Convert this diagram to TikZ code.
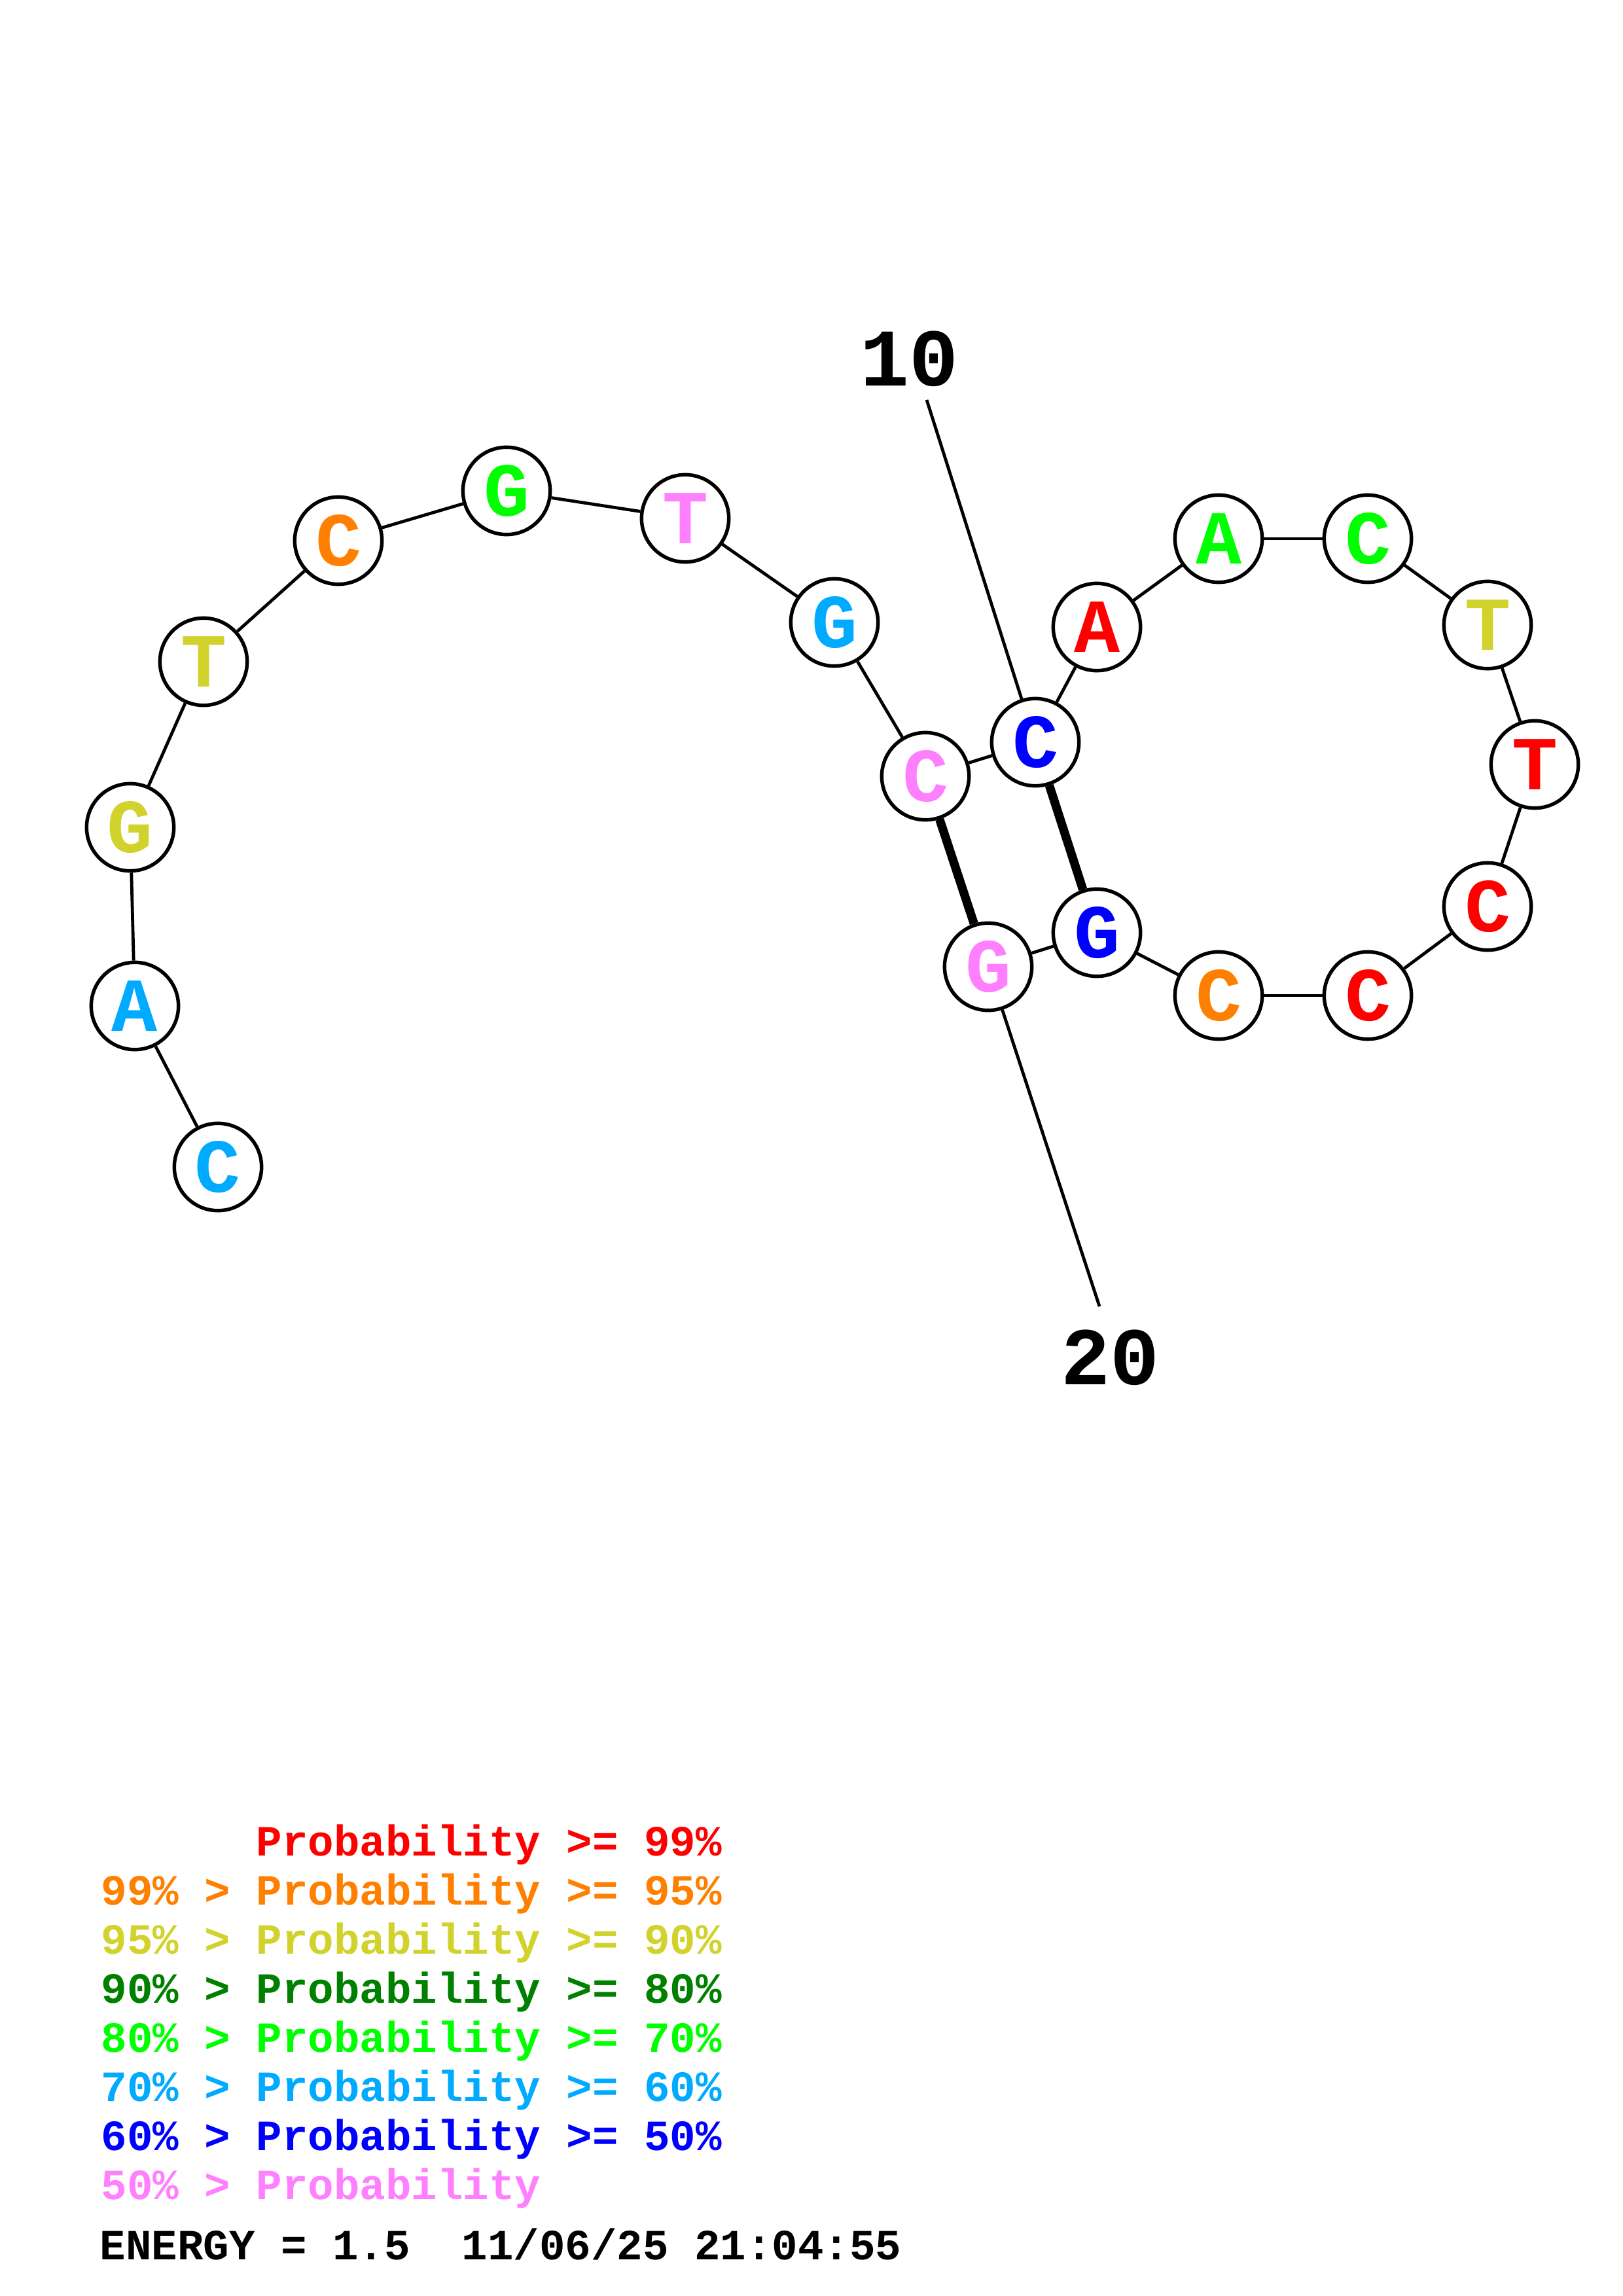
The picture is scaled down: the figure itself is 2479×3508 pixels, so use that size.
\documentclass[tikz,border=0pt]{standalone}
\usepackage{fontspec}
\setmonofont{Liberation Mono}
\newfontfamily\cour{Liberation Mono}
\definecolor{pRed}{RGB}{255,0,0}
\definecolor{pOrange}{RGB}{255,128,0}
\definecolor{pYellow}{RGB}{210,210,45}
\definecolor{pDkGreen}{RGB}{0,128,0}
\definecolor{pGreen}{RGB}{0,255,0}
\definecolor{pCyan}{RGB}{0,170,255}
\definecolor{pBlue}{RGB}{0,0,255}
\definecolor{pPink}{RGB}{255,128,255}
\newcommand{\nlet}[1]{\raisebox{-2pt}{#1}}
\tikzset{
  nt/.style={circle, draw=black, line width=1.3pt, fill=white, minimum size=32pt, inner sep=0pt,
    font=\cour\bfseries\fontsize{28}{28}\selectfont},
  bb/.style={line width=1.15pt, black},
  pairline/.style={line width=3.2pt, black},
  numlab/.style={font=\cour\bfseries\fontsize{30}{30}\selectfont},
  leg/.style={anchor=base west, inner sep=0pt, font=\cour\bfseries\fontsize{15.8}{16}\selectfont}
}
\begin{document}
\begin{tikzpicture}[x=0.24pt,y=-0.24pt]
\useasboundingbox (0,0) rectangle (2479,3508);
\coordinate (t10) at (1416,611);
\coordinate (t20) at (1680,1996);
% nodes
\node[nt, text=pCyan]   (n1)  at (333,1783) {\nlet{C}};
\node[nt, text=pCyan]   (n2)  at (206,1537) {\nlet{A}};
\node[nt, text=pYellow] (n3)  at (199,1264) {\nlet{G}};
\node[nt, text=pYellow] (n4)  at (311,1011) {\nlet{T}};
\node[nt, text=pOrange] (n5)  at (517,826) {\nlet{C}};
\node[nt, text=pGreen]  (n6)  at (774,750) {\nlet{G}};
\node[nt, text=pPink]   (n7)  at (1047,792) {\nlet{T}};
\node[nt, text=pCyan]   (n8)  at (1275,951) {\nlet{G}};
\node[nt, text=pPink]   (n9)  at (1414,1186) {\nlet{C}};
\node[nt, text=pBlue]   (n10) at (1582,1134) {\nlet{C}};
\node[nt, text=pRed]    (n11) at (1676,958) {\nlet{A}};
\node[nt, text=pGreen]  (n12) at (1862,823) {\nlet{A}};
\node[nt, text=pGreen]  (n13) at (2090,823) {\nlet{C}};
\node[nt, text=pYellow] (n14) at (2273,955) {\nlet{T}};
\node[nt, text=pRed]    (n15) at (2345,1168) {\nlet{T}};
\node[nt, text=pRed]    (n16) at (2273,1385) {\nlet{C}};
\node[nt, text=pRed]    (n17) at (2090,1521) {\nlet{C}};
\node[nt, text=pOrange] (n18) at (1862,1521) {\nlet{C}};
\node[nt, text=pBlue]   (n19) at (1676,1425) {\nlet{G}};
\node[nt, text=pPink]   (n20) at (1510,1477) {\nlet{G}};
% backbone
\foreach \a/\b in {1/2,2/3,3/4,4/5,5/6,6/7,7/8,8/9,9/10,10/11,11/12,12/13,13/14,14/15,15/16,16/17,17/18,18/19,19/20}
  \draw[bb] (n\a) -- (n\b);
% pairs
\draw[pairline] (n9) -- (n20);
\draw[pairline] (n10) -- (n19);
% number labels
\draw[bb] (t10) -- (n10);
\draw[bb] (n20) -- (t20);
\node[numlab] (l10) at (1389,548) {10};
\node[numlab] (l20) at (1696,2074) {20};
% legend
\node[leg, text=pRed]     (g1) at (391,2835) {Probability >= 99\%};
\node[leg, text=pOrange]  (g2) at (154,2910) {99\% > Probability >= 95\%};
\node[leg, text=pYellow]  (g3) at (154,2985) {95\% > Probability >= 90\%};
\node[leg, text=pDkGreen] (g4) at (154,3060) {90\% > Probability >= 80\%};
\node[leg, text=pGreen]   (g5) at (154,3135) {80\% > Probability >= 70\%};
\node[leg, text=pCyan]    (g6) at (154,3210) {70\% > Probability >= 60\%};
\node[leg, text=pBlue]    (g7) at (154,3285) {60\% > Probability >= 50\%};
\node[leg, text=pPink]    (g8) at (154,3360) {50\% > Probability};
\node[leg, text=black]    (en) at (152,3452) {ENERGY = 1.5~~11/06/25 21:04:55};
\end{tikzpicture}
\end{document}
